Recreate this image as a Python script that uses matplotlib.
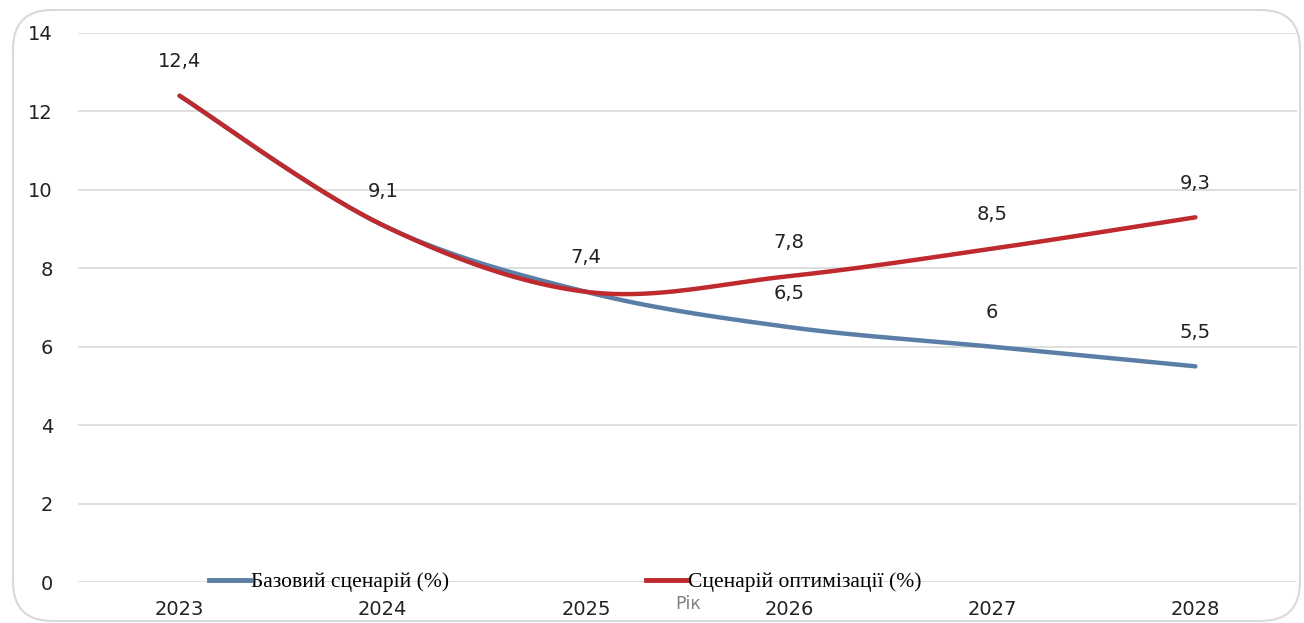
import numpy as np
import matplotlib
matplotlib.use("Agg")
import matplotlib.pyplot as plt
from matplotlib.patches import FancyBboxPatch
from matplotlib.lines import Line2D

years = ["2023", "2024", "2025", "2026", "2027", "2028"]
base = [12.4, 9.1, 7.4, 6.5, 6.0, 5.5]
optim = [12.4, 9.1, 7.4, 7.8, 8.5, 9.3]
base_labels = ["12,4", "9,1", "7,4", "6,5", "6", "5,5"]
optim_labels = ["12,4", "9,1", "7,4", "7,8", "8,5", "9,3"]
yticks = [0, 2, 4, 6, 8, 10, 12, 14]

BLUE = "#5b7ea6"
RED = "#bf2a2f"
FONT = "DejaVu Sans"


def smooth(x, y, n=40):
    x = np.asarray(x, float)
    y = np.asarray(y, float)
    xs, ys = [], []
    m = len(x)
    for i in range(m - 1):
        p0 = np.array([x[max(i - 1, 0)], y[max(i - 1, 0)]])
        p1 = np.array([x[i], y[i]])
        p2 = np.array([x[i + 1], y[i + 1]])
        p3 = np.array([x[min(i + 2, m - 1)], y[min(i + 2, m - 1)]])
        c1 = p1 + (p2 - p0) / 6.0
        c2 = p2 - (p3 - p1) / 6.0
        t = np.linspace(0, 1, n)[:, None]
        pts = ((1 - t) ** 3) * p1 + 3 * ((1 - t) ** 2) * t * c1 + 3 * (1 - t) * t ** 2 * c2 + t ** 3 * p2
        xs.extend(pts[:, 0])
        ys.extend(pts[:, 1])
    return np.array(xs), np.array(ys)


fig = plt.figure(figsize=(13.04, 6.23), dpi=100)
fig.patch.set_facecolor("white")

frame = FancyBboxPatch((13 / 1304, 2 / 623), (1300 - 13) / 1304, (613 - 2) / 623,
                       boxstyle="round,pad=0,rounding_size=0.03",
                       transform=fig.transFigure, facecolor="white",
                       edgecolor="#d9d9d9", linewidth=1.5, mutation_aspect=1304 / 623,
                       zorder=-10)
fig.patches.append(frame)

ax = fig.add_axes([78 / 1304, 1 - 582 / 623, (1297 - 78) / 1304, (582 - 33) / 623])
ax.set_facecolor("none")
x = np.arange(len(years))
ax.set_xlim(-0.5, 5.5)
ax.set_ylim(0, 14)
ax.set_yticks(yticks)
ax.set_yticklabels([str(v) for v in yticks], fontsize=14, family=FONT, color="#222222")
ax.set_xticks(x)
ax.set_xticklabels(years, fontsize=14, family=FONT, color="#222222")
ax.tick_params(axis="both", length=0)
ax.tick_params(axis="y", pad=18)
ax.tick_params(axis="x", pad=13)
for s in ax.spines.values():
    s.set_visible(False)
ax.grid(axis="y", color="#d9d9d9", linewidth=1.2)
ax.set_axisbelow(True)

bx, by = smooth(x, base)
ox, oy = smooth(x, optim)
ax.plot(bx, by, color=BLUE, linewidth=3.2, solid_capstyle="round", zorder=3)
ax.plot(ox, oy, color=RED, linewidth=3.2, solid_capstyle="round", zorder=4)

for i in range(len(years)):
    ax.annotate(optim_labels[i], (x[i], optim[i]), xytext=(0, 24.5), textcoords="offset points",
                ha="center", va="center", fontsize=14, family=FONT, color="#222222", zorder=5)
    if base[i] != optim[i]:
        ax.annotate(base_labels[i], (x[i], base[i]), xytext=(0, 24.5), textcoords="offset points",
                    ha="center", va="center", fontsize=14, family=FONT, color="#222222", zorder=5)

fig.text(688 / 1304, 1 - 604 / 623, "Рік", ha="center", va="center",
         fontsize=12.5, family=FONT, color="#808080")

handles = [Line2D([], [], color=BLUE, linewidth=3.5),
           Line2D([], [], color=RED, linewidth=3.5)]
leg = fig.legend(handles, ["Базовий сценарій (%)", "Сценарій оптимізації (%)"],
                 loc="center", bbox_to_anchor=(565 / 1304, 1 - 582 / 623), ncol=2,
                 frameon=False, prop={"family": "Liberation Serif", "size": 15.5},
                 handlelength=1.9, handletextpad=0.05, columnspacing=9.15)

fig.savefig("out.png", dpi=100, facecolor="white")
